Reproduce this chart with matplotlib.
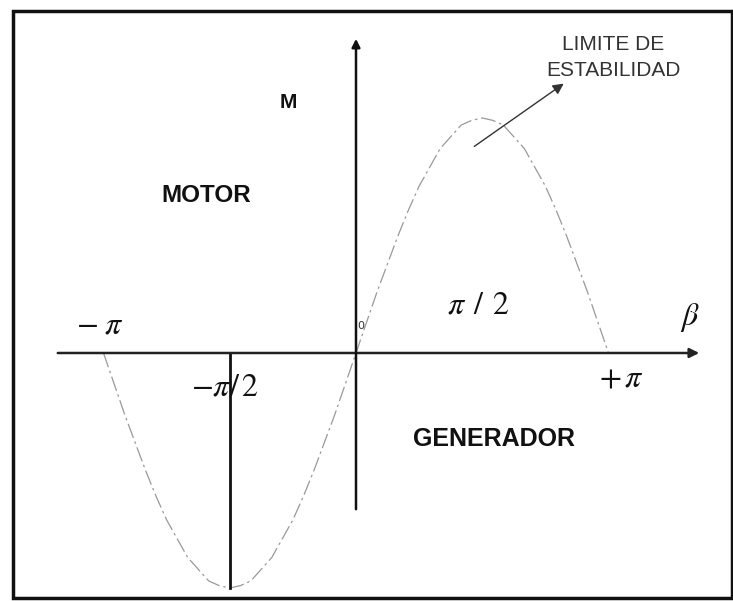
"""Curva par-angulo de la maquina sincrona"""
import numpy as np
import matplotlib
matplotlib.use("Agg")
import matplotlib.pyplot as plt
from matplotlib.patches import Rectangle

# angulo de carga (multiplos de pi/24) y par
beta_steps = list(range(-24, 25))
par_pos = [0.0, 0.13, 0.26, 0.38, 0.50, 0.61, 0.71, 0.79, 0.87, 0.92, 0.97,
           0.99, 1.0, 0.99, 0.97, 0.92, 0.87, 0.79, 0.71, 0.61, 0.50, 0.38,
           0.26, 0.13, 0.0]
par_neg = [-0.13, -0.26, -0.38, -0.50, -0.61, -0.71, -0.79, -0.87, -0.92,
           -0.97, -0.99, -1.0, -0.99, -0.97, -0.92, -0.87, -0.79, -0.71,
           -0.61, -0.50, -0.38, -0.26, -0.13]
par = [0.0] + par_neg + par_pos
beta = np.array(beta_steps) * np.pi / 24

PX = 252.5 / np.pi   # pixeles por radian
PY = 235.0           # pixeles por unidad de par
X0, Y0 = 356, 353    # origen en pixeles


def px(xp):
    return (xp - X0) / PX


def py(yp):
    return (Y0 - yp) / PY


plt.rcParams['mathtext.fontset'] = 'stix'
fig = plt.figure(figsize=(7.33, 6.01), dpi=100)
ax = fig.add_axes([0, 0, 1, 1])
ax.set_xlim(px(0), px(733))
ax.set_ylim(py(601), py(0))
ax.axis("off")

# marco
fig.patches.append(Rectangle((13 / 733, 3 / 601), 719 / 733, 587 / 601,
                             transform=fig.transFigure, fill=False,
                             edgecolor="#111111", linewidth=2.5))

# ejes
ax.annotate("", xy=(px(702), 0), xytext=(px(55), 0),
            arrowprops=dict(arrowstyle="-|>", color="#222222", lw=1.8,
                            mutation_scale=14))
ax.annotate("", xy=(0, py(36)), xytext=(0, py(512)),
            arrowprops=dict(arrowstyle="-|>", color="#111111", lw=1.8,
                            mutation_scale=12))

# curva
ax.plot(beta, par, color="#999999", lw=0.9, linestyle=(0, (12, 3, 2, 3)))

# linea en -pi/2
ax.plot([-np.pi / 2, -np.pi / 2], [0, -1.0], color="#111111", lw=2.0)

serif = dict(fontsize=23, ha="center", va="center", color="#111111")
ax.text(px(100), py(325), r"$-\;\pi$", **serif)
ax.text(px(478), py(305), r"$\pi\;\,/\;\,2$", **serif)
ax.text(px(690), py(318), r"$\beta$", **serif)
ax.text(px(621), py(378), r"$+\,\pi$", **serif)
ax.text(px(225), py(387), r"$-\pi/\,2$", **serif)
ax.text(px(361), py(326), "0", fontsize=8, ha="center", va="center",
        color="#333333")

bold = dict(fontfamily="Liberation Sans", fontweight="bold", ha="center",
            va="center", color="#111111")
ax.text(px(288), py(103), "M", fontsize=15, **bold)
ax.text(px(206), py(196), "MOTOR", fontsize=17.5, **bold)
ax.text(px(494), py(439), "GENERADOR", fontsize=18, **bold)

ax.text(px(613), py(44), "LIMITE DE", fontsize=15,
        fontfamily="Liberation Sans", ha="center", va="center",
        color="#333333")
ax.text(px(613), py(71), "ESTABILIDAD", fontsize=15,
        fontfamily="Liberation Sans", ha="center", va="center",
        color="#333333")
ax.annotate("", xy=(px(566), py(82)), xytext=(px(472), py(148)),
            arrowprops=dict(arrowstyle="-|>", color="#333333", lw=1.0,
                            mutation_scale=16))

fig.savefig("out.png", dpi=100)
